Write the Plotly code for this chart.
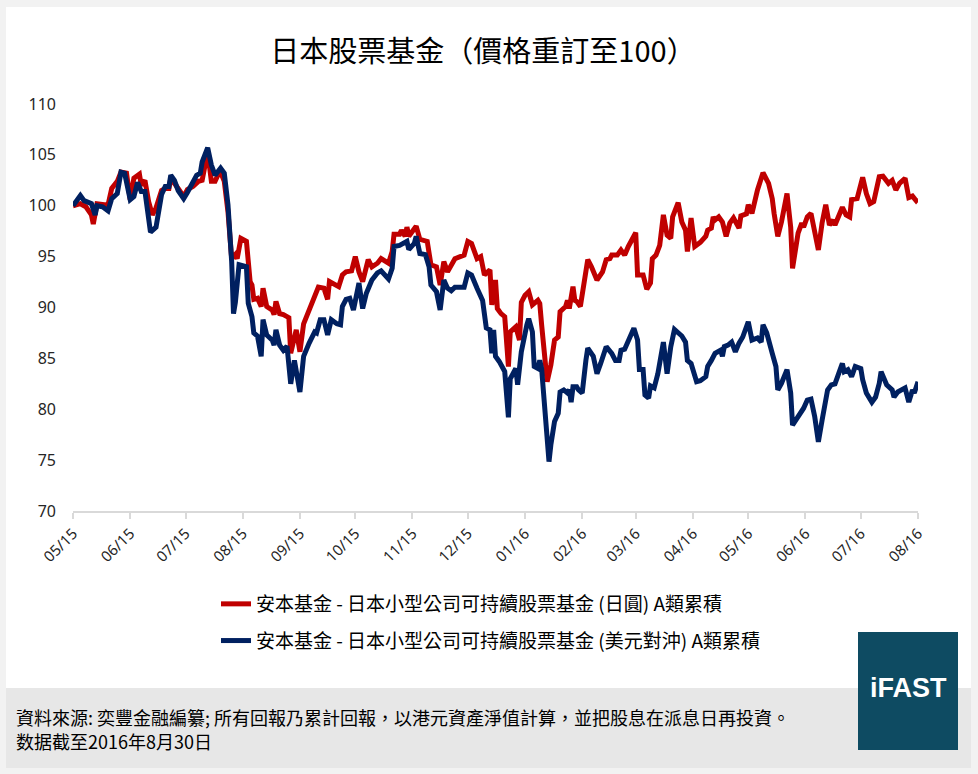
import plotly.graph_objects as go

# ---------------- data ----------------
red_name = "安本基金 - 日本小型公司可持續股票基金 (日圓) A類累積"
blue_name = "安本基金 - 日本小型公司可持續股票基金 (美元對沖) A類累積"

red_dates = [
    "2015-05-01","2015-05-05","2015-05-08","2015-05-11","2015-05-12","2015-05-14","2015-05-18","2015-05-20","2015-05-22","2015-05-25","2015-05-27","2015-05-30",
    "2015-06-01","2015-06-03","2015-06-06","2015-06-07","2015-06-09","2015-06-11","2015-06-13","2015-06-15","2015-06-18","2015-06-20","2015-06-22","2015-06-23","2015-06-27","2015-06-30",
    "2015-07-02","2015-07-05","2015-07-08","2015-07-10","2015-07-13","2015-07-15","2015-07-17","2015-07-19","2015-07-20","2015-07-22","2015-07-24","2015-07-26","2015-07-28","2015-07-29","2015-07-31",
    "2015-08-03","2015-08-05","2015-08-06","2015-08-07","2015-08-09","2015-08-11","2015-08-12","2015-08-14","2015-08-17","2015-08-18","2015-08-19","2015-08-21","2015-08-23","2015-08-26","2015-08-27","2015-08-30",
    "2015-09-01","2015-09-03","2015-09-06","2015-09-09","2015-09-11","2015-09-14","2015-09-16","2015-09-17","2015-09-20","2015-09-22","2015-09-24","2015-09-26","2015-09-29",
    "2015-10-01","2015-10-03","2015-10-05","2015-10-08","2015-10-10","2015-10-13","2015-10-15","2015-10-19","2015-10-21","2015-10-22","2015-10-25","2015-10-26","2015-10-28","2015-10-29","2015-10-30",
    "2015-11-01","2015-11-03","2015-11-05","2015-11-09","2015-11-11","2015-11-14","2015-11-16","2015-11-18","2015-11-20","2015-11-22","2015-11-24","2015-11-29",
    "2015-12-01","2015-12-03","2015-12-06","2015-12-08","2015-12-10","2015-12-13","2015-12-14","2015-12-16","2015-12-17","2015-12-19","2015-12-21","2015-12-23","2015-12-24","2015-12-27","2015-12-29","2015-12-30",
    "2016-01-01","2016-01-03","2016-01-05","2016-01-08","2016-01-09","2016-01-10","2016-01-13","2016-01-15","2016-01-17","2016-01-19","2016-01-20","2016-01-23","2016-01-24","2016-01-25","2016-01-27","2016-01-28","2016-01-29","2016-01-31",
    "2016-02-04","2016-02-06","2016-02-09","2016-02-12","2016-02-14","2016-02-16","2016-02-17","2016-02-20","2016-02-22","2016-02-24","2016-02-26",
    "2016-03-01","2016-03-02","2016-03-05","2016-03-07","2016-03-09","2016-03-10","2016-03-12","2016-03-14","2016-03-16","2016-03-18","2016-03-20","2016-03-21","2016-03-24","2016-03-26","2016-03-28","2016-03-29","2016-03-31",
    "2016-04-02","2016-04-05","2016-04-08","2016-04-09","2016-04-11","2016-04-12","2016-04-13","2016-04-15","2016-04-17","2016-04-19","2016-04-21","2016-04-23","2016-04-26","2016-04-27","2016-04-30",
    "2016-05-01","2016-05-03","2016-05-06","2016-05-09","2016-05-12","2016-05-14","2016-05-15","2016-05-17","2016-05-19","2016-05-22","2016-05-24","2016-05-25","2016-05-28","2016-05-30","2016-05-31",
    "2016-06-02","2016-06-04","2016-06-08","2016-06-10","2016-06-12","2016-06-14","2016-06-16","2016-06-17","2016-06-21","2016-06-23","2016-06-25","2016-06-26","2016-06-29",
    "2016-07-02","2016-07-04","2016-07-06","2016-07-08","2016-07-11","2016-07-13","2016-07-16","2016-07-18","2016-07-20","2016-07-22","2016-07-25","2016-07-27","2016-07-29","2016-07-31","2016-08-01",
]
red_values = [
    100.0,100.2,99.9,99.1,98.2,100.2,100.1,100.1,101.7,102.4,103.3,103.2,
    100.6,102.7,103.1,102.0,102.5,100.4,99.1,99.8,101.5,101.7,101.7,102.7,101.7,100.9,
    101.6,101.9,102.4,102.5,105.3,102.4,102.4,103.2,103.3,102.4,99.4,94.8,95.2,94.8,96.8,
    96.5,92.55,92.2,90.8,90.9,90.1,91.9,90.1,89.75,89.3,90.6,89.4,89.3,89.0,85.5,87.8,
    85.65,88.4,89.75,91.1,92.0,91.9,90.8,92.55,92.3,92.05,93.2,93.5,93.6,
    95.0,93.5,92.55,94.7,94.0,94.35,94.8,94.35,95.5,97.2,97.2,97.6,97.0,97.9,97.0,
    97.5,98.0,96.7,96.5,94.2,94.0,92.2,94.5,93.5,94.25,94.8,95.15,
    96.5,96.3,94.8,95.0,93.2,93.7,90.25,92.7,89.9,89.4,89.1,84.2,87.6,88.1,86.8,90.5,
    91.2,91.55,90.25,90.7,90.4,88.3,82.7,84.35,86.8,87.1,89.6,90.1,90.7,89.9,92.05,90.7,90.6,90.1,
    94.7,94.0,92.7,93.5,94.7,94.8,95.15,95.15,95.65,95.15,96.0,
    97.35,93.2,93.2,91.8,92.4,94.8,95.15,96.1,99.1,97.1,96.8,98.9,100.3,98.4,97.6,95.5,98.8,
    96.0,96.4,97.0,97.6,97.8,98.9,98.6,98.9,98.4,97.0,98.3,98.8,97.8,99.0,99.2,
    100.1,99.25,101.55,103.25,102.2,100.7,99.25,97.0,98.4,101.2,97.9,93.85,97.3,98.3,97.9,
    98.9,99.25,95.65,98.3,100.1,98.1,98.6,98.1,99.85,99.1,98.9,100.6,100.7,
    102.8,101.2,100.2,100.4,102.85,102.9,102.2,102.5,101.55,102.2,102.7,100.8,100.95,100.5,100.7,
]

blue_dates = [
    "2015-05-01","2015-05-05","2015-05-07","2015-05-11","2015-05-13","2015-05-14","2015-05-17","2015-05-20","2015-05-22","2015-05-25","2015-05-27","2015-05-29",
    "2015-06-01","2015-06-03","2015-06-05","2015-06-07","2015-06-09","2015-06-11","2015-06-12","2015-06-15","2015-06-18","2015-06-20","2015-06-22","2015-06-23","2015-06-25","2015-06-27","2015-06-30",
    "2015-07-02","2015-07-04","2015-07-07","2015-07-09","2015-07-10","2015-07-13","2015-07-15","2015-07-17","2015-07-18","2015-07-20","2015-07-22","2015-07-24","2015-07-26","2015-07-27","2015-07-28","2015-07-30",
    "2015-08-03","2015-08-04","2015-08-06","2015-08-07","2015-08-09","2015-08-11","2015-08-12","2015-08-14","2015-08-17","2015-08-18","2015-08-19","2015-08-21","2015-08-23","2015-08-25","2015-08-27","2015-08-29",
    "2015-09-01","2015-09-03","2015-09-06","2015-09-09","2015-09-10","2015-09-12","2015-09-14","2015-09-16","2015-09-18","2015-09-21","2015-09-23","2015-09-24","2015-09-26","2015-09-28","2015-09-30",
    "2015-10-02","2015-10-03","2015-10-05","2015-10-07","2015-10-10","2015-10-13","2015-10-15","2015-10-19","2015-10-21","2015-10-22","2015-10-25","2015-10-27","2015-10-29","2015-10-30",
    "2015-11-02","2015-11-03","2015-11-05","2015-11-08","2015-11-10","2015-11-11","2015-11-14","2015-11-16","2015-11-18","2015-11-20","2015-11-22","2015-11-24","2015-11-29",
    "2015-12-01","2015-12-03","2015-12-06","2015-12-09","2015-12-11","2015-12-13","2015-12-14","2015-12-15","2015-12-16","2015-12-18","2015-12-21","2015-12-23","2015-12-24","2015-12-27","2015-12-28","2015-12-30",
    "2016-01-02","2016-01-03","2016-01-05","2016-01-06","2016-01-08","2016-01-09","2016-01-10","2016-01-12","2016-01-14","2016-01-15","2016-01-17","2016-01-19","2016-01-20","2016-01-22","2016-01-24","2016-01-25","2016-01-26","2016-01-27","2016-01-29","2016-01-30",
    "2016-02-01","2016-02-03","2016-02-04","2016-02-07","2016-02-09","2016-02-11","2016-02-14","2016-02-17","2016-02-19","2016-02-21","2016-02-22","2016-02-24","2016-02-26","2016-02-29",
    "2016-03-02","2016-03-03","2016-03-05","2016-03-06","2016-03-08","2016-03-09","2016-03-11","2016-03-13","2016-03-16","2016-03-18","2016-03-20","2016-03-22","2016-03-26","2016-03-28","2016-03-29","2016-03-31",
    "2016-04-03","2016-04-05","2016-04-08","2016-04-09","2016-04-11","2016-04-13","2016-04-16","2016-04-17","2016-04-18","2016-04-20","2016-04-22","2016-04-24","2016-04-26","2016-04-28",
    "2016-05-01","2016-05-03","2016-05-06","2016-05-08","2016-05-09","2016-05-11","2016-05-14","2016-05-16","2016-05-17","2016-05-19","2016-05-22","2016-05-24","2016-05-25","2016-05-28","2016-05-31",
    "2016-06-02","2016-06-04","2016-06-06","2016-06-08","2016-06-10","2016-06-13","2016-06-15","2016-06-17","2016-06-19","2016-06-21","2016-06-22","2016-06-24","2016-06-26","2016-06-28",
    "2016-07-01","2016-07-02","2016-07-04","2016-07-07","2016-07-09","2016-07-11","2016-07-12","2016-07-15","2016-07-18","2016-07-19","2016-07-21","2016-07-23","2016-07-25","2016-07-27","2016-07-29","2016-07-30","2016-08-01",
]
blue_values = [
    100.0,101.0,100.5,100.2,99.1,100.0,99.9,99.5,100.7,101.2,103.3,103.2,
    100.6,100.9,102.3,101.4,101.4,99.1,97.4,97.9,101.1,101.9,101.9,103.0,102.5,101.5,100.7,
    101.3,102.0,103.0,103.2,104.3,105.7,104.0,103.0,103.2,103.7,103.2,100.1,94.5,89.4,90.5,94.2,
    94.0,90.4,89.1,87.5,87.2,85.2,88.8,87.3,86.8,86.3,87.8,86.3,85.8,86.2,82.5,84.8,
    81.7,85.2,86.5,87.6,87.5,88.8,88.8,87.3,88.8,88.4,88.3,90.1,90.8,90.9,89.75,
    91.2,92.4,89.9,91.4,92.7,93.4,93.6,92.8,93.85,96.0,96.1,96.3,96.5,95.7,
    96.3,97.0,95.3,95.2,94.0,92.2,91.55,89.75,92.7,91.9,91.65,92.0,92.0,
    93.4,93.2,91.9,90.7,88.0,87.8,85.5,87.8,85.2,84.7,83.7,79.2,83.0,84.0,82.4,85.65,
    88.3,88.9,87.6,84.2,84.0,84.8,84.0,79.1,74.85,76.5,78.8,79.6,81.7,81.9,81.6,81.9,80.7,82.2,82.2,81.9,
    81.6,84.8,86.0,85.2,83.5,84.5,86.15,85.5,84.8,84.8,85.8,85.9,86.8,87.95,
    86.8,83.9,83.9,81.4,81.1,82.3,82.1,83.5,86.6,83.5,86.15,87.85,87.2,86.6,84.8,84.5,
    82.7,82.8,83.2,84.2,84.8,85.5,85.8,85.2,86.15,86.3,86.6,85.65,86.5,87.1,
    88.6,86.8,87.0,86.6,88.3,87.5,85.5,84.2,81.9,82.55,83.9,81.6,78.45,79.3,80.1,
    80.9,81.0,79.3,76.8,78.9,81.9,82.4,82.5,83.5,84.5,83.7,83.9,83.2,84.2,
    84.0,82.9,81.6,80.7,81.2,82.55,83.7,82.4,81.9,81.2,81.7,81.9,82.1,80.7,81.9,81.6,82.7,
]

month_ticks = ["2015-05-01","2015-06-01","2015-07-01","2015-08-01","2015-09-01","2015-10-01",
               "2015-11-01","2015-12-01","2016-01-01","2016-02-01","2016-03-01","2016-04-01",
               "2016-05-01","2016-06-01","2016-07-01","2016-08-01"]
month_labels = ["05/15","06/15","07/15","08/15","09/15","10/15","11/15","12/15",
                "01/16","02/16","03/16","04/16","05/16","06/16","07/16","08/16"]
y_ticks = [70, 75, 80, 85, 90, 95, 100, 105, 110]

title_text = "日本股票基金（價格重訂至100）"
footer_line1 = "資料來源: 奕豐金融編纂; 所有回報乃累計回報，以港元資產淨值計算，並把股息在派息日再投資。"
footer_line2 = "数据截至2016年8月30日"
logo_text = "iFAST"

# ---------------- layout geometry (pixels) ----------------
W, H = 978, 774
PL, PR, PT, PB = 73, 918, 104, 511   # plot area edges


def fx(px):
    return (px - PL) / (PR - PL)


def fy(py):
    return (PB - py) / (PB - PT)


CJK = "Noto Sans CJK TC"

fig = go.Figure()
fig.add_trace(go.Scatter(x=red_dates, y=red_values, mode="lines", name=red_name,
                         line=dict(color="#C00000", width=5), legendgroup="r"))
fig.add_trace(go.Scatter(x=blue_dates, y=blue_values, mode="lines", name=blue_name,
                         line=dict(color="#002060", width=5), legendgroup="b"))

shapes = [
    # white card
    dict(type="rect", xref="paper", yref="paper", x0=fx(6), x1=fx(971), y0=fy(768), y1=fy(7),
         fillcolor="white", line=dict(width=0), layer="below"),
    # footer band
    dict(type="rect", xref="paper", yref="paper", x0=fx(6), x1=fx(971), y0=fy(768), y1=fy(688),
         fillcolor="#E7E7E7", line=dict(width=0), layer="below"),
    # logo box
    dict(type="rect", xref="paper", yref="paper", x0=fx(858), x1=fx(958), y0=fy(750), y1=fy(632),
         fillcolor="#0E4B62", line=dict(width=0), layer="above"),
]

annotations = [
    dict(text=footer_line1, xref="paper", yref="paper", x=fx(14), y=fy(717),
         xanchor="left", yanchor="middle", showarrow=False,
         font=dict(family=CJK, size=18, color="#000000")),
    dict(text=footer_line2, xref="paper", yref="paper", x=fx(14), y=fy(741),
         xanchor="left", yanchor="middle", showarrow=False,
         font=dict(family=CJK, size=18, color="#000000")),
    dict(text="<b>" + logo_text + "</b>", xref="paper", yref="paper", x=fx(908), y=fy(688),
         xanchor="center", yanchor="middle", showarrow=False,
         font=dict(family="Liberation Sans", size=27, color="#FFFFFF")),
]

fig.update_layout(
    width=W, height=H,
    margin=dict(l=PL, r=W - PR, t=PT, b=H - PB, pad=0),
    paper_bgcolor="#F2F2F2",
    plot_bgcolor="rgba(0,0,0,0)",
    title=dict(text=title_text, x=483 / W, xref="container", xanchor="center",
               y=1 - 52 / H, yref="container", yanchor="middle",
               font=dict(family=CJK, size=29, color="#000000")),
    xaxis=dict(type="date", range=["2015-05-01", "2016-08-01"],
               tickmode="array", tickvals=month_ticks, ticktext=month_labels,
               tickangle=-45, tickfont=dict(family="Noto Sans", size=15, color="#262626"),
               showgrid=False, zeroline=False, showline=True, linecolor="#D9D9D9", linewidth=2,
               ticks="outside", ticklen=6, tickcolor="#D9D9D9", tickwidth=1.5),
    yaxis=dict(range=[70, 110], tickmode="array", tickvals=y_ticks,
               tickfont=dict(family="Noto Sans", size=16, color="#262626"),
               showgrid=False, zeroline=False, showline=False, ticks="",
               ticklabelstandoff=16),
    legend=dict(x=fx(216), y=fy(585), xanchor="left", yanchor="top",
                orientation="v", traceorder="grouped", tracegroupgap=9,
                bgcolor="rgba(0,0,0,0)", borderwidth=0,
                font=dict(family=CJK, size=19, color="#000000")),
    showlegend=True,
    shapes=shapes,
    annotations=annotations,
)

fig.write_html("out.html")
